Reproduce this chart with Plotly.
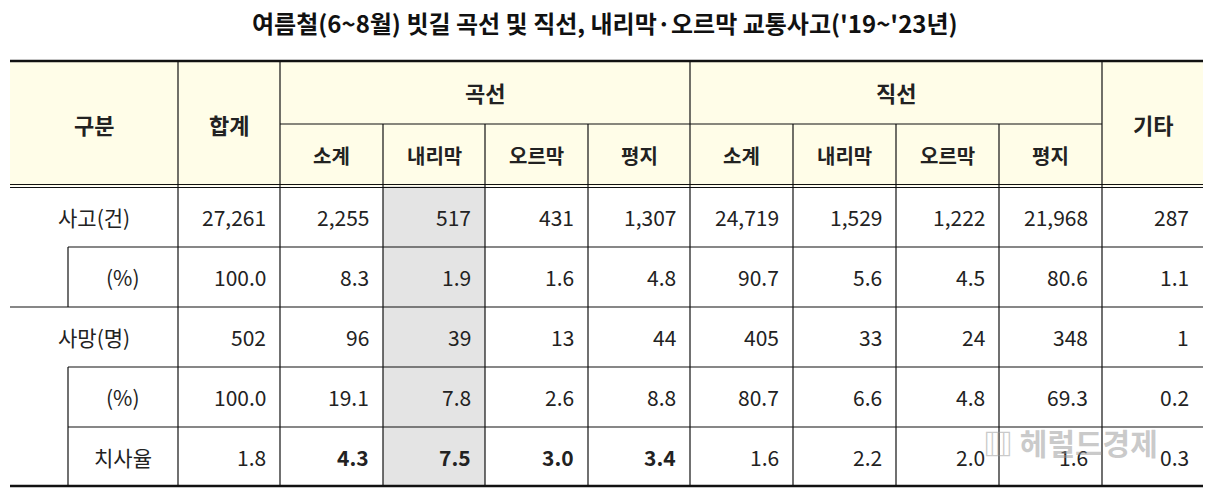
import plotly.graph_objects as go

title = "여름철(6~8월) 빗길 곡선 및 직선, 내리막·오르막 교통사고('19~'23년)"
groups = ["곡선", "직선"]
sub_headers = ["소계", "내리막", "오르막", "평지"]
row_labels = ["사고(건)", "(%)", "사망(명)", "(%)", "치사율"]
rows = [
    ["27,261", "2,255", "517", "431", "1,307", "24,719", "1,529", "1,222", "21,968", "287"],
    ["100.0", "8.3", "1.9", "1.6", "4.8", "90.7", "5.6", "4.5", "80.6", "1.1"],
    ["502", "96", "39", "13", "44", "405", "33", "24", "348", "1"],
    ["100.0", "19.1", "7.8", "2.6", "8.8", "80.7", "6.6", "4.8", "69.3", "0.2"],
    ["1.8", "4.3", "7.5", "3.0", "3.4", "1.6", "2.2", "2.0", "1.6", "0.3"],
]
bold_cells = [(4, 1), (4, 2), (4, 3), (4, 4)]

# geometry (pixel space)
xs = [10, 178, 280, 383, 485, 588, 690, 793, 896, 999, 1102, 1203]
x_indent = 68
y_top, y_mid, y_hb = 61, 124, 186
ys = [186, 247, 307, 367, 427, 486]
FONT = "Noto Sans CJK KR"
OFF = 8  # page body margin
shapes, ann = [], []

def line(x0, y0, x1, y1, w=1.2):
    shapes.append(dict(type="line", x0=x0, y0=y0, x1=x1, y1=y1, line=dict(color="#111", width=w), layer="above"))

def rect(x0, y0, x1, y1, color):
    shapes.append(dict(type="rect", x0=x0, y0=y0, x1=x1, y1=y1, fillcolor=color, line=dict(width=0), layer="below"))

def text(x, y, s, size=21, bold=False, anchor="center", color="#222"):
    ann.append(dict(x=x, y=y, text=f"<b>{s}</b>" if bold else s, showarrow=False, xanchor=anchor,
                    yanchor="middle", font=dict(family=FONT, size=size, color=color)))

rect(xs[0], y_top, xs[-1], y_hb, "#FFFDE8")
rect(xs[3], ys[0], xs[4], ys[-1], "#E4E4E4")

line(xs[0], y_top, xs[-1], y_top, 2.5)
line(xs[0], y_hb - 1.5, xs[-1], y_hb - 1.5, 1.2)
line(xs[0], y_hb + 1.5, xs[-1], y_hb + 1.5, 1.2)
line(xs[2], y_mid, xs[10], y_mid)
for i in [1, 2, 6, 10]:
    line(xs[i], y_top, xs[i], ys[-1])
for i in [3, 4, 5, 7, 8, 9]:
    line(xs[i], y_mid, xs[i], ys[-1])
for r in range(1, 5):
    x0 = xs[0] if r == 2 else x_indent
    line(x0, ys[r], xs[-1], ys[r])
line(xs[0], ys[-1], xs[-1], ys[-1], 2.5)
line(x_indent, ys[1], x_indent, ys[2])
line(x_indent, ys[3], x_indent, ys[5])

text(94, 124, "구분", 22, True)
text((xs[1] + xs[2]) / 2, 124, "합계", 22, True)
text((xs[2] + xs[6]) / 2, 92, groups[0], 22, True)
text((xs[6] + xs[10]) / 2, 92, groups[1], 22, True)
text((xs[10] + xs[11]) / 2, 124, "기타", 22, True)
for g in range(2):
    for k, h in enumerate(sub_headers):
        i = 2 + g * 4 + k
        text((xs[i] + xs[i + 1]) / 2, 155, h, 20, True)

label_x = [94, 123, 94, 123, 123]
for r, lab in enumerate(row_labels):
    yc = (ys[r] + ys[r + 1]) / 2
    text(label_x[r], yc, lab, 21)
    for c, v in enumerate(rows[r]):
        text(xs[c + 2] - 12, yc, v, 21, (r, c) in bold_cells, "right")

text(605, 22, title, 24, True, color="#111")
text(1070, 442, "▥ 헤럴드경제", 30, True, color="rgba(150,150,150,0.5)")

fig = go.Figure()
fig.update_layout(width=1211, height=495, margin=dict(l=0, r=0, t=0, b=0),
                  paper_bgcolor="white", plot_bgcolor="white", shapes=shapes, annotations=ann,
                  xaxis=dict(range=[OFF, 1211 + OFF], visible=False, fixedrange=True),
                  yaxis=dict(range=[495 + OFF, OFF], visible=False, fixedrange=True), showlegend=False)
fig.write_html("out.html", config={"displayModeBar": False})
